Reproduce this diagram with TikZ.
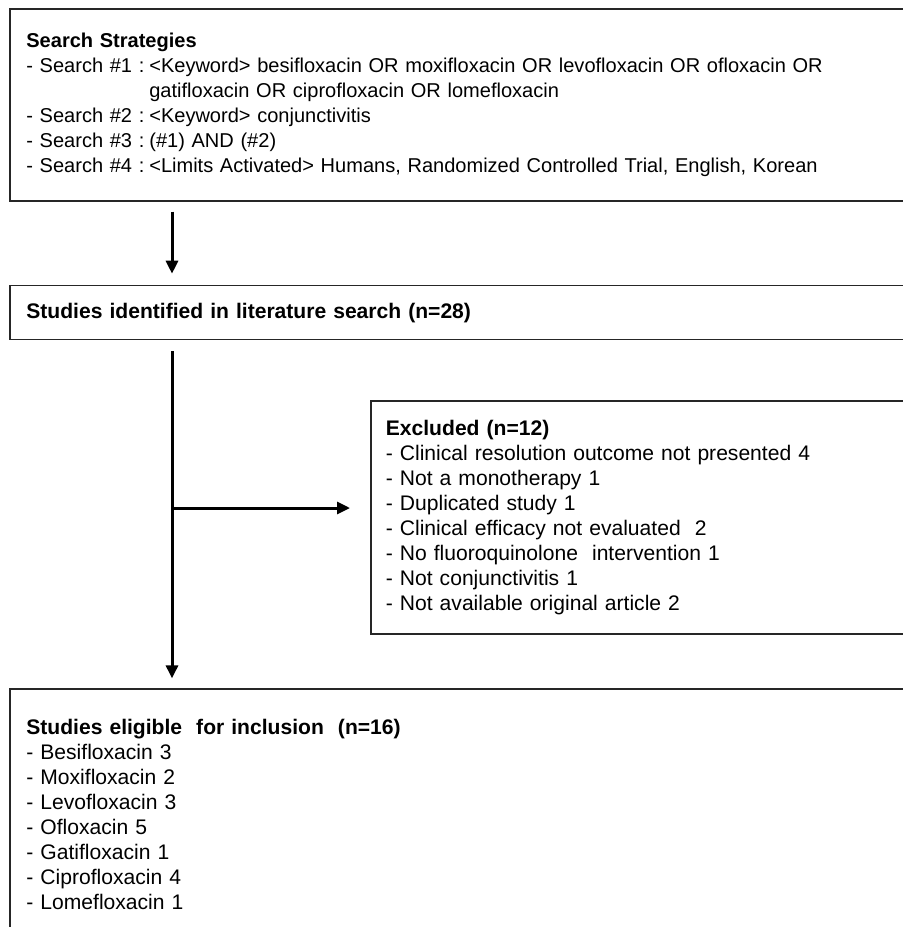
\documentclass[tikz,border=0pt]{standalone}
\usepackage{fontspec}
\setmainfont{Liberation Sans}
\usetikzlibrary{arrows.meta,positioning,calc}

\begin{document}
\begin{tikzpicture}[
    x=0.02cm, y=-0.02cm,
    font=\fontsize{12}{14.2}\selectfont,
    >={Triangle[length=0.26cm,width=0.24cm]},
    % --- node styles ---
    box/.style  = {rectangle, draw=black!85, line width=0.035cm,
                   anchor=north west, align=left,
                   inner xsep=0.33cm, inner ysep=0pt,
                   text width=17.56cm},
    sbox/.style = {box, inner xsep=0.3cm, text width=10.4cm},
    arrow/.style = {->, line width=0.06cm},
]
\useasboundingbox (0,0) rectangle (903,927);
\clip (0,0) rectangle (903,927);

%============ SEARCH STRATEGIES ============
\node (search) [box, minimum height=3.84cm,
                font=\fontsize{11.4}{14.2}\selectfont] at (9,8)
  {\textbf{Search Strategies}\\
   \makebox[2.46cm][l]{- Search \#1 :}{<}Keyword{>} besifloxacin OR moxifloxacin OR levofloxacin OR ofloxacin OR\\
   \hspace*{2.46cm}gatifloxacin OR ciprofloxacin OR lomefloxacin\\
   \makebox[2.46cm][l]{- Search \#2 :}{<}Keyword{>} conjunctivitis\\
   \makebox[2.46cm][l]{- Search \#3 :}(\#1) AND (\#2)\\
   \makebox[2.46cm][l]{- Search \#4 :}{<}Limits Activated{>} Humans, Randomized Controlled Trial, English, Korean};

%============ IDENTIFIED ============
\node (ident) [box, minimum height=1.08cm,
               below=1.66cm of search.south west, anchor=north west]
  {\textbf{Studies identified in literature search (n=28)}};

%============ EXCLUDED ============
\node (excl) [sbox, minimum height=4.66cm] at (370,400)
  {\textbf{Excluded (n=12)}\\
   - Clinical resolution outcome not presented 4\\
   - Not a monotherapy 1\\
   - Duplicated study 1\\
   - Clinical efficacy not evaluated~~2\\
   - No fluoroquinolone~~intervention 1\\
   - Not conjunctivitis 1\\
   - Not available original article 2};

%============ ELIGIBLE ============
\node (elig) [box, minimum height=5cm,
              below=6.96cm of ident.south west, anchor=north west]
  {\textbf{Studies eligible~ for inclusion~ (n=16)}\\
   - Besifloxacin 3\\
   - Moxifloxacin 2\\
   - Levofloxacin 3\\
   - Ofloxacin 5\\
   - Gatifloxacin 1\\
   - Ciprofloxacin 4\\
   - Lomefloxacin 1};

%============ CONNECTORS ============
\coordinate (trunk) at (172,0);
\coordinate (branch) at (172,508);

\draw[arrow, shorten <=0.2cm, shorten >=0.22cm]
  (search.south -| trunk) -- (ident.north -| trunk);
\draw[arrow, shorten <=0.22cm, shorten >=0.2cm]
  (ident.south -| trunk) -- (elig.north -| trunk);
\draw[arrow, shorten >=0.4cm] (branch) -- (branch -| excl.west);

\end{tikzpicture}
\end{document}
